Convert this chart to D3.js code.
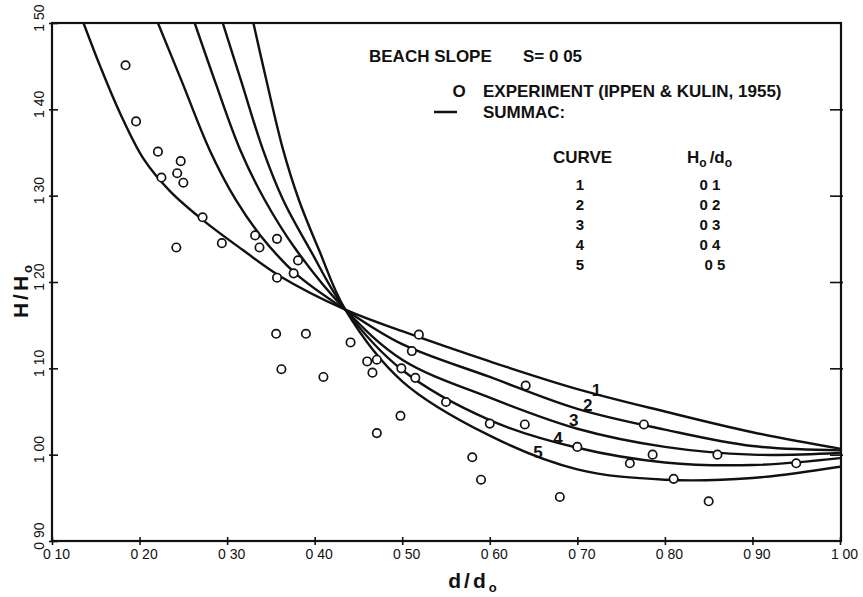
<!DOCTYPE html>
<html>
<head>
<meta charset="utf-8">
<title>Beach slope S = 0.05</title>
<script src="https://d3js.org/d3.v7.min.js"></script>
<style>
  body { margin: 0; background: #fff; }
  svg text { font-family: "Liberation Sans", Arial, sans-serif; fill: #111; }
</style>
</head>
<body>
<div id="chart"></div>
<script>

// experiment (Ippen & Kulin, 1955): d/do and H/Ho
var expD = [0.184, 0.196, 0.221, 0.247, 0.243, 0.250, 0.225, 0.272, 0.242, 0.294,
            0.332, 0.337, 0.357, 0.381, 0.357, 0.376, 0.356, 0.390, 0.362, 0.410,
            0.441, 0.460, 0.471, 0.466, 0.519, 0.511, 0.499, 0.515, 0.550, 0.498,
            0.471, 0.600, 0.641, 0.640, 0.580, 0.590, 0.680, 0.700, 0.776, 0.786,
            0.760, 0.860, 0.810, 0.850, 0.950];
var expH = [1.451, 1.386, 1.351, 1.340, 1.326, 1.315, 1.321, 1.275, 1.240, 1.245,
            1.254, 1.240, 1.250, 1.225, 1.205, 1.210, 1.140, 1.140, 1.099, 1.090,
            1.130, 1.108, 1.110, 1.095, 1.139, 1.120, 1.100, 1.089, 1.061, 1.045,
            1.025, 1.036, 1.080, 1.035, 0.997, 0.971, 0.951, 1.009, 1.035, 1.000,
            0.990, 1.000, 0.972, 0.946, 0.990];

// SUMMAC curves, [d/do, H/Ho]
var curve1 = [[0.136, 1.500], [0.155, 1.450], [0.178, 1.395], [0.205, 1.342], [0.235, 1.305],
              [0.272, 1.272], [0.318, 1.237], [0.360, 1.207], [0.435, 1.168], [0.500, 1.143],
              [0.600, 1.108], [0.700, 1.076], [0.800, 1.050], [0.900, 1.026], [1.000, 1.007]];
var curve2 = [[0.221, 1.500], [0.248, 1.433], [0.280, 1.353], [0.310, 1.295], [0.338, 1.254],
              [0.378, 1.210], [0.435, 1.168], [0.500, 1.128], [0.600, 1.090], [0.700, 1.053],
              [0.800, 1.029], [0.900, 1.010], [1.000, 1.005]];
var curve3 = [[0.263, 1.500], [0.286, 1.433], [0.315, 1.353], [0.343, 1.295], [0.379, 1.237],
              [0.435, 1.168], [0.500, 1.110], [0.600, 1.066], [0.700, 1.030], [0.800, 1.009],
              [0.900, 1.000], [1.000, 1.002]];
var curve4 = [[0.295, 1.500], [0.316, 1.433], [0.341, 1.353], [0.364, 1.295], [0.395, 1.237],
              [0.435, 1.168], [0.500, 1.098], [0.600, 1.040], [0.700, 1.008], [0.800, 0.991],
              [0.900, 0.988], [1.000, 0.996]];
var curve5 = [[0.330, 1.500], [0.345, 1.433], [0.364, 1.353], [0.382, 1.295], [0.405, 1.237],
              [0.435, 1.168], [0.500, 1.085], [0.600, 1.022], [0.700, 0.983], [0.800, 0.971],
              [0.900, 0.973], [1.000, 0.986]];

var curveIds = ["1", "2", "3", "4", "5"];
var ratioLabels = ["0 1", "0 2", "0 3", "0 4", "0 5"];

// where the curve numbers sit on the chart (data units)
var labelD = [0.722, 0.712, 0.696, 0.678, 0.655];
var labelH = [1.075, 1.058, 1.040, 1.019, 1.003];

var xTicks = [0.10, 0.20, 0.30, 0.40, 0.50, 0.60, 0.70, 0.80, 0.90, 1.00];
var yTicks = [0.90, 1.00, 1.10, 1.20, 1.30, 1.40, 1.50];

var width = 863, height = 597;

var x = d3.scaleLinear().domain([0.10, 1.00]).range([52, 840]);
var y = d3.scaleLinear().domain([0.90, 1.50]).range([541, 23]);

var svg = d3.select("#chart").append("svg")
    .attr("width", width)
    .attr("height", height);

// labels look like "0 10" on the scan (no decimal point)
var fmt = function (d) { return d3.format(".2f")(d).replace(".", " "); };

svg.append("clipPath").attr("id", "plot")
  .append("rect")
    .attr("x", x(0.10)).attr("y", y(1.50))
    .attr("width", x(1.00) - x(0.10))
    .attr("height", y(0.90) - y(1.50));

// frame
svg.append("rect")
    .attr("x", x(0.10)).attr("y", y(1.50))
    .attr("width", x(1.00) - x(0.10) + 1)
    .attr("height", y(0.90) - y(1.50))
    .attr("fill", "none")
    .attr("stroke", "#111")
    .attr("stroke-width", 2.2);

// bottom axis
var xAxis = svg.append("g")
    .attr("transform", "translate(0," + y(0.90) + ")")
    .call(d3.axisBottom(x).tickValues(xTicks).tickFormat(fmt).tickSize(4));
xAxis.select(".domain").remove();
xAxis.selectAll(".tick line").attr("y1", -4).attr("y2", 4).attr("stroke", "#111").attr("stroke-width", 1.6);
xAxis.selectAll(".tick text")
    .attr("dy", null).attr("y", 18).attr("dx", 4)
    .style("font-size", "14px");

// left axis, rotated labels
var yAxis = svg.append("g")
    .attr("transform", "translate(" + x(0.10) + ",0)")
    .call(d3.axisLeft(y).tickValues(yTicks).tickFormat(fmt).tickSize(3));
yAxis.select(".domain").remove();
yAxis.selectAll(".tick line").attr("x1", 6).attr("x2", -3).attr("stroke", "#111").attr("stroke-width", 1.6);
yAxis.selectAll(".tick text")
    .attr("x", null).attr("dy", null)
    .attr("text-anchor", "middle")
    .attr("transform", "translate(-8,-5.5) rotate(-90)")
    .style("font-size", "14px");

// right axis, inward ticks only
var rAxis = svg.append("g")
    .attr("transform", "translate(" + (x(1.00) + 1) + ",0)")
    .call(d3.axisRight(y).tickValues(yTicks.slice(1, -1)).tickFormat("").tickSize(2));
rAxis.select(".domain").remove();
rAxis.selectAll(".tick line").attr("x1", -11).attr("x2", 2).attr("stroke", "#111").attr("stroke-width", 1.6);

// axis titles
svg.append("text")
    .attr("x", 474).attr("y", 588)
    .attr("text-anchor", "middle")
    .style("font-size", "21px").style("font-weight", "bold").style("letter-spacing", "3px")
    .text("d/d")
  .append("tspan")
    .attr("dy", 4).style("font-size", "13px")
    .text("o");

svg.append("text")
    .attr("transform", "translate(28,290) rotate(-90)")
    .attr("text-anchor", "middle")
    .style("font-size", "21px").style("font-weight", "bold").style("letter-spacing", "3px")
    .text("H/H")
  .append("tspan")
    .attr("dy", 4).style("font-size", "13px")
    .text("o");

// curves
var line = d3.line()
    .x(function (d) { return x(d[0]); })
    .y(function (d) { return y(d[1]); })
    .curve(d3.curveCatmullRom.alpha(0.5));

svg.append("g").attr("clip-path", "url(#plot)")
  .selectAll("path")
  .data([curve1, curve2, curve3, curve4, curve5])
  .enter().append("path")
    .attr("d", line)
    .attr("fill", "none")
    .attr("stroke", "#111")
    .attr("stroke-width", 2.4);

// curve numbers
svg.selectAll(".clabel")
  .data(curveIds)
  .enter().append("text")
    .attr("class", "clabel")
    .attr("x", function (d, i) { return x(labelD[i]); })
    .attr("y", function (d, i) { return y(labelH[i]) + 6; })
    .attr("text-anchor", "middle")
    .style("font-size", "17px").style("font-weight", "bold")
    .text(function (d) { return d; });

// experiment points
svg.append("g")
  .selectAll("circle")
  .data(expD)
  .enter().append("circle")
    .attr("cx", function (d) { return x(d); })
    .attr("cy", function (d, i) { return y(expH[i]); })
    .attr("r", 4.2)
    .attr("fill", "#fff")
    .attr("stroke", "#111")
    .attr("stroke-width", 1.7);

// legend
var legend = svg.append("g").style("font-weight", "bold").style("font-size", "17px");

legend.append("text").attr("x", 369).attr("y", 62).text("BEACH SLOPE");
legend.append("text").attr("x", 523).attr("y", 62).text("S= 0 05");

legend.append("text").attr("x", 459).attr("y", 97).attr("text-anchor", "middle").text("O");
legend.append("text").attr("x", 483).attr("y", 97).text("EXPERIMENT (IPPEN & KULIN, 1955)");

legend.append("line")
    .attr("x1", 434).attr("x2", 457).attr("y1", 112).attr("y2", 112)
    .attr("stroke", "#111").attr("stroke-width", 2.5);
legend.append("text").attr("x", 483).attr("y", 118).text("SUMMAC:");

legend.append("text").attr("x", 553).attr("y", 163).text("CURVE");
var hd = legend.append("text").attr("x", 687).attr("y", 163);
hd.append("tspan").text("H");
hd.append("tspan").attr("dy", 4).style("font-size", "12px").text("o");
hd.append("tspan").attr("dy", -4).attr("dx", 3).text("/d");
hd.append("tspan").attr("dy", 4).style("font-size", "12px").text("o");

legend.selectAll(".cid")
  .data(curveIds)
  .enter().append("text")
    .attr("class", "cid")
    .attr("x", 580)
    .attr("y", function (d, i) { return 190 + i * 20; })
    .attr("text-anchor", "middle")
    .style("font-size", "15px")
    .text(function (d) { return d; });

legend.selectAll(".ratio")
  .data(ratioLabels)
  .enter().append("text")
    .attr("class", "ratio")
    .attr("x", function (d, i) { return i === 4 ? 715 : 710; })
    .attr("y", function (d, i) { return 190 + i * 20; })
    .attr("text-anchor", "middle")
    .style("font-size", "15px")
    .text(function (d) { return d; });

</script>
</body>
</html>
